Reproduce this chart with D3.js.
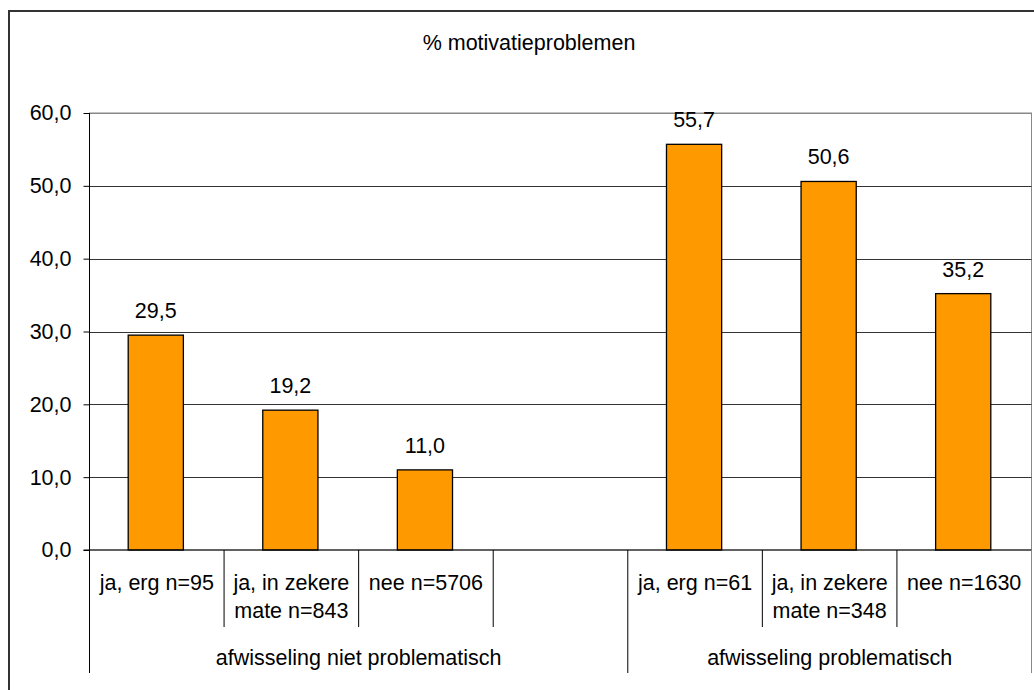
<!DOCTYPE html>
<html>
<head>
<meta charset="utf-8">
<script src="https://cdn.jsdelivr.net/npm/d3@7"></script>
<style>
  html, body { margin: 0; padding: 0; background: #fff; }
  svg { display: block; }
  text { font-family: "Liberation Sans", Arial, sans-serif; fill: #000; }
</style>
</head>
<body>
<svg id="chart" width="1034" height="690"></svg>
<script>
// ---- data ----
const categories = [
  ["ja, erg n=95"],
  ["ja, in zekere", "mate n=843"],
  ["nee n=5706"],
  [""],
  ["ja, erg n=61"],
  ["ja, in zekere", "mate n=348"],
  ["nee n=1630"]
];
const values = [29.5, 19.2, 11.0, null, 55.7, 50.6, 35.2];
const groups = ["afwisseling niet problematisch", "afwisseling problematisch"];
const groupSpans = [[0, 3], [4, 6]];
const yTicks = [0, 10, 20, 30, 40, 50, 60];
const title = "% motivatieproblemen";

// ---- layout ----
const svg = d3.select("#chart");
const L = 89.5, R = 1031.5, T = 113, B = 550;
const FS = "21.5px";
const fmt = v => v.toFixed(1).replace(".", ",");

const x = d3.scaleBand().domain(d3.range(categories.length)).range([L, R]).paddingInner(0).paddingOuter(0);
const y = d3.scaleLinear().domain([0, 60]).range([B, T]);
const barW = x.bandwidth() * 0.41;

// outer border
svg.append("rect").attr("x", 9).attr("y", 11).attr("width", 1040).attr("height", 700)
  .attr("fill", "none").attr("stroke", "#333").attr("stroke-width", 2);

// title
svg.append("text").attr("x", 529).attr("y", 50).attr("text-anchor", "middle")
  .style("font-size", FS).text(title);

// plot area border (gray)
svg.append("rect").attr("x", L).attr("y", T).attr("width", R - L).attr("height", B - T)
  .attr("fill", "none").attr("stroke", "#888").attr("stroke-width", 1);

// gridlines
svg.append("g").selectAll("line").data(yTicks.filter(t => t > 0)).join("line")
  .attr("x1", L).attr("x2", R)
  .attr("y1", d => Math.round(y(d)) + 0.5).attr("y2", d => Math.round(y(d)) + 0.5)
  .attr("stroke", d => d === 60 ? "#888" : "#333").attr("stroke-width", 1);

// y axis
const yAxis = d3.axisLeft(y).tickValues(yTicks).tickFormat(fmt).tickSize(6).tickPadding(12);
const gy = svg.append("g").attr("transform", `translate(${L},0)`).call(yAxis);
gy.select(".domain").remove();
gy.selectAll(".tick line").attr("stroke", "#000");
gy.selectAll(".tick text").style("font-size", FS).style("font-family", "'Liberation Sans', Arial, sans-serif").attr("fill", "#000");
svg.append("line").attr("x1", L).attr("x2", L).attr("y1", T).attr("y2", 673)
  .attr("stroke", "#000").attr("stroke-width", 1);

// bars
svg.append("g").selectAll("rect").data(values.map((v, i) => ({ v, i })).filter(d => d.v !== null)).join("rect")
  .attr("x", d => x(d.i) + x.bandwidth() / 2 - barW / 2 - 1)
  .attr("y", d => y(d.v))
  .attr("width", barW)
  .attr("height", d => y(0) - y(d.v))
  .attr("fill", "#ff9900").attr("stroke", "#000").attr("stroke-width", 1.3);

// value labels
svg.append("g").selectAll("text").data(values.map((v, i) => ({ v, i })).filter(d => d.v !== null)).join("text")
  .attr("x", d => x(d.i) + x.bandwidth() / 2 - 1)
  .attr("y", d => y(d.v) - 17)
  .attr("text-anchor", "middle").style("font-size", FS)
  .text(d => fmt(d.v));

// baseline
svg.append("line").attr("x1", L - 6).attr("x2", R).attr("y1", B).attr("y2", B)
  .attr("stroke", "#000").attr("stroke-width", 1.2);

// category dividers
const boundaries = d3.range(1, categories.length + 1);
const groupEnds = groupSpans.map(s => s[1] + 1);
svg.append("g").selectAll("line").data(boundaries).join("line")
  .attr("x1", d => d === categories.length ? R : x(d))
  .attr("x2", d => d === categories.length ? R : x(d))
  .attr("y1", B)
  .attr("y2", d => groupEnds.includes(d) || d === categories.length ? 673 : 627)
  .attr("stroke", d => d === categories.length ? "#888" : "#000").attr("stroke-width", 1);

// category labels
const catG = svg.append("g").selectAll("text").data(categories.map((c, i) => ({ c, i }))).join("text")
  .attr("x", d => x(d.i) + x.bandwidth() / 2)
  .attr("y", 590)
  .attr("text-anchor", "middle").style("font-size", FS);
catG.selectAll("tspan").data(d => d.c.map((line, k) => ({ line, k, d }))).join("tspan")
  .attr("x", t => x(t.d.i) + x.bandwidth() / 2)
  .attr("dy", t => t.k === 0 ? 0 : 28)
  .text(t => t.line);

// group labels
svg.append("g").selectAll("text").data(groups.map((g, i) => ({ g, i }))).join("text")
  .attr("x", d => (x(groupSpans[d.i][0]) + x(groupSpans[d.i][1]) + x.bandwidth()) / 2)
  .attr("y", 665)
  .attr("text-anchor", "middle").style("font-size", FS)
  .text(d => d.g);
</script>
</body>
</html>
